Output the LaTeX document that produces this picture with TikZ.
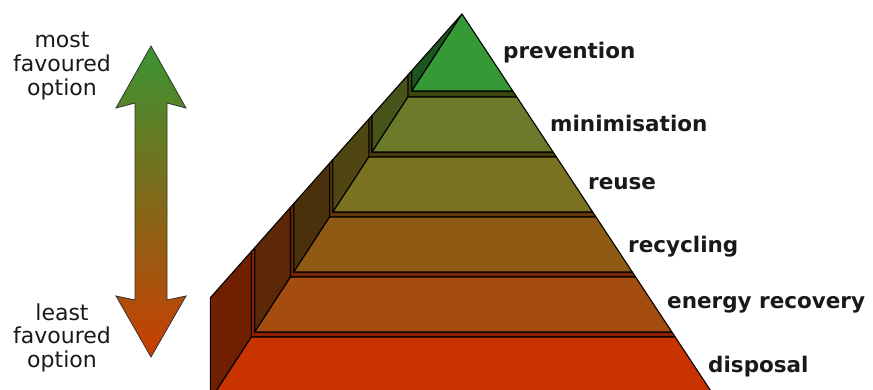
\documentclass[tikz,border=0pt]{standalone}
\usepackage{fontspec}
\setmainfont{DejaVu Sans}
\definecolor{prevF}{RGB}{53,153,53}
\definecolor{prevS}{RGB}{28,85,30}
\definecolor{minF}{RGB}{106,122,42}
\definecolor{minS}{RGB}{70,84,26}
\definecolor{minL}{RGB}{58,70,16}
\definecolor{reuF}{RGB}{122,114,32}
\definecolor{reuS}{RGB}{80,70,18}
\definecolor{reuL}{RGB}{72,62,12}
\definecolor{recF}{RGB}{143,90,20}
\definecolor{recS}{RGB}{75,48,12}
\definecolor{recL}{RGB}{100,55,10}
\definecolor{eneF}{RGB}{165,76,16}
\definecolor{eneS}{RGB}{92,40,8}
\definecolor{eneL}{RGB}{118,40,6}
\definecolor{disF}{RGB}{200,51,0}
\definecolor{disS}{RGB}{112,32,0}
\definecolor{disL}{RGB}{140,32,0}
\definecolor{arrTop}{RGB}{58,148,50}
\definecolor{arrMid}{RGB}{122,106,30}
\definecolor{arrBot}{RGB}{202,62,0}
\definecolor{txt}{RGB}{25,25,25}
\begin{document}
\begin{tikzpicture}[x=1pt,y=-1pt,
  face/.style={draw=black,line width=1.1pt,line join=round},
  lab/.style={text=txt,font=\fontsize{21.5}{24}\selectfont\bfseries,inner sep=0pt,anchor=base west},
  lft/.style={text=txt,font=\fontsize{22}{24}\selectfont,inner sep=0pt,anchor=base}]
\useasboundingbox (0,0) rectangle (873,390);
\begin{scope}
\clip (0,0) rectangle (873,390);
% layer 6: disposal
\fill[disL,face] (251.4,251.4) -- (254.7,247.7) -- (254.7,332) -- (671.9,332) -- (675.2,337) -- (251.4,337) -- cycle;
\fill[disS,face] (251.4,251.4) -- (210.3,297.8) -- (210.3,400) -- (251.4,337) -- cycle;
\fill[disF,face] (251.4,337) -- (675.2,337) -- (716.8,400) -- (210.3,400) -- cycle;
% layer 5: energy recovery
\fill[eneL,face] (290.5,207.3) -- (293.8,203.6) -- (293.8,272) -- (632.3,272) -- (635.6,277) -- (290.5,277) -- cycle;
\fill[eneS,face] (290.5,207.3) -- (254.7,247.7) -- (254.7,332) -- (290.5,277) -- cycle;
\fill[eneF,face] (290.5,277) -- (635.6,277) -- (671.9,332) -- (254.7,332) -- cycle;
% layer 4: recycling
\fill[recL,face] (329.6,163.2) -- (332.9,159.5) -- (332.9,212) -- (592.7,212) -- (596.0,217) -- (329.6,217) -- cycle;
\fill[recS,face] (329.6,163.2) -- (293.8,203.6) -- (293.8,272) -- (329.6,217) -- cycle;
\fill[recF,face] (329.6,217) -- (596.0,217) -- (632.3,272) -- (293.8,272) -- cycle;
% layer 3: reuse
\fill[reuL,face] (368.8,119.1) -- (372.0,115.5) -- (372.0,152) -- (553.1,152) -- (556.4,157) -- (368.8,157) -- cycle;
\fill[reuS,face] (368.8,119.1) -- (332.9,159.5) -- (332.9,212) -- (368.8,157) -- cycle;
\fill[reuF,face] (368.8,157) -- (556.4,157) -- (592.7,212) -- (332.9,212) -- cycle;
% layer 2: minimisation
\fill[minL,face] (407.9,75.0) -- (411.8,70.6) -- (411.8,91) -- (512.8,91) -- (516.8,97) -- (407.9,97) -- cycle;
\fill[minS,face] (407.9,75.0) -- (372.0,115.5) -- (372.0,152) -- (407.9,97) -- cycle;
\fill[minF,face] (407.9,97) -- (516.8,97) -- (553.1,152) -- (372.0,152) -- cycle;
% layer 1: prevention
\fill[prevS,face] (462,14) -- (411.8,70.6) -- (411.8,91) -- cycle;
\fill[prevF,face] (462,14) -- (512.8,91) -- (411.8,91) -- cycle;
\end{scope}
% double arrow
\shade[draw=black!80,line width=0.8pt,line join=miter,top color=arrTop,middle color=arrMid,bottom color=arrBot]
  (151,46) -- (186,108) -- (167,103) -- (167,300) -- (186,296) -- (151,357)
  -- (116,296) -- (135,300) -- (135,103) -- (116,108) -- cycle;
% left labels
\node[lft] (mostA) at (62,48) {most};
\node[lft] (mostB) at (62,72) {favoured};
\node[lft] (mostC) at (62,95.5) {option};
\node[lft] (leastA) at (62,320) {least};
\node[lft] (leastB) at (62,343.5) {favoured};
\node[lft] (leastC) at (62,367) {option};
% right labels
\node[lab] (prev) at (503,59) {prevention};
\node[lab] (mini) at (550,132) {minimisation};
\node[lab] (reuse) at (588,190) {reuse};
\node[lab] (recy) at (628,252) {recycling};
\node[lab] (ener) at (667,308) {energy recovery};
\node[lab] (disp) at (708,372) {disposal};
\end{tikzpicture}
\end{document}
